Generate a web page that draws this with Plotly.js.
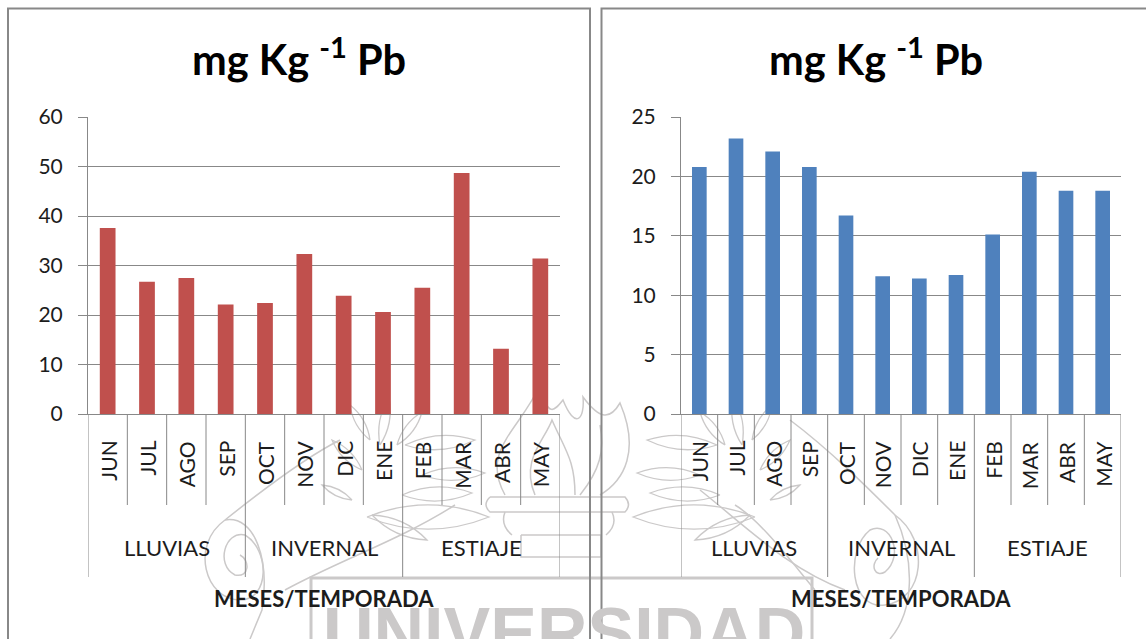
<!DOCTYPE html>
<html>
<head>
<meta charset="utf-8">
<script src="https://cdn.plot.ly/plotly-3.0.1.min.js"></script>
<style>html,body{margin:0;padding:0;background:#fff;overflow:hidden}</style>
</head>
<body>
<div id="chart" style="width:1146px;height:639px"></div>
<script>
// Monthly lead concentration, two sampling sites
const months = ['JUN','JUL','AGO','SEP','OCT','NOV','DIC','ENE','FEB','MAR','ABR','MAY'];
const seasons = ['LLUVIAS','INVERNAL','ESTIAJE'];
const seasonLength = 4;
const pbRed = [37.6,26.7,27.5,22.1,22.4,32.3,23.9,20.6,25.5,48.7,13.2,31.4];
const pbBlue = [20.8,23.2,22.1,20.8,16.7,11.6,11.4,11.7,15.1,20.4,18.8,18.8];
const chartTitle = 'mg Kg <sup>-1</sup> Pb';
const xTitle = 'MESES/TEMPORADA';

const W = 1146, H = 639;
const fx = x => x / W;
const fy = y => 1 - y / H;
const FONT = 'Lato, Carlito, "Open Sans", sans-serif';
const INK = '#1c1c1c', RULE = '#888888', EMBLEM = '#cbc9c9';

// Turn a path written in page pixels into paper coordinates
function pagePath(d) {
  let isX = true;
  return d.replace(/-?\d+(\.\d+)?/g, n => {
    const v = isX ? fx(+n) : fy(+n);
    isX = !isX;
    return v.toFixed(5);
  });
}
const stroke = (d, w) => ({type:'path', xref:'paper', yref:'paper', layer:'below',
  path: pagePath(d), line:{color:EMBLEM, width:w || 1.4}});

function leaf(bx, by, tx, ty, bulge) {
  const mx = (bx + tx) / 2, my = (by + ty) / 2;
  const nx = -(ty - by), ny = tx - bx;
  const k = bulge || 0.2;
  return `M${bx} ${by} Q${mx + nx*k} ${my + ny*k} ${tx} ${ty} Q${mx - nx*k} ${my - ny*k} ${bx} ${by}`;
}

// University emblem sitting faintly behind both panels
const emblem = [];
const laurelLeaves = [
  [717,445,647,440],[700,475,637,473],[720,495,650,493],[755,517,633,517],[750,515,695,540],
  [742,445,733,398],[725,445,700,412],[752,440,772,405],[760,470,790,440],[770,500,800,485]
];
const mirrorSum = 1122;
laurelLeaves.forEach(l => {
  emblem.push(stroke(leaf(l[0], l[1], l[2], l[3]), 1.3));
  emblem.push(stroke(leaf(mirrorSum - l[0], l[1], mirrorSum - l[2], l[3]), 1.3));
});
[
  'M505 495 C480 450 520 430 540 385 C548 420 555 410 563 400 C575 430 585 420 583 397 C600 420 610 420 620 403 C640 450 625 480 600 495',
  'M535 495 C520 460 545 440 552 420 C565 450 575 460 575 495',
  'M580 495 C600 470 605 450 600 425',
  'M490 497 L625 497 Q632 505 625 512 L490 512 Q482 505 490 497',
  'M521 535 L601 535 L601 557 L521 557 L521 535',
  'M505 512 Q500 525 512 535 M612 512 Q618 525 606 535',
  // left scroll
  'M340 440 C300 460 250 500 225 520 C190 545 205 600 240 600 C270 600 270 550 245 535 C225 530 215 565 235 575 C250 578 250 560 240 555',
  'M225 520 C255 515 270 560 262 610 L250 639',
  'M455 505 C400 540 340 560 285 590',
  // right scroll
  'M790 420 C830 450 870 490 895 515 C930 540 925 600 885 605 C850 610 845 550 870 530 C890 520 905 555 885 572 C875 578 870 565 878 558',
  'M700 490 C750 530 790 570 845 590 M895 515 C915 560 915 610 890 639',
  'M735 505 C760 520 790 560 815 590'
].forEach(d => emblem.push(stroke(d, 1.5)));
[518,535,552,570,587].forEach(cx => {
  emblem.push(stroke(`M${cx-7} 522 A7 7 0 1 0 ${cx+7} 522 A7 7 0 1 0 ${cx-7} 522`, 1.4));
});
emblem.push(stroke('M311 639 L311 578 L812 578 L812 639', 3));

// Frames around each panel
const frame = (x0, x1) => ({type:'rect', xref:'paper', yref:'paper', layer:'below',
  x0:fx(x0), x1:fx(x1), y0:fy(H + 10), y1:fy(8.5), line:{color:RULE, width:2}, fillcolor:'rgba(0,0,0,0)'});

// Month separators and the longer season separators under each category axis
function dividers(xref) {
  const out = [];
  for (let i = 0; i <= months.length; i++) {
    const major = i % seasonLength === 0;
    out.push({type:'line', xref, yref:'paper', x0:i-0.5, x1:i-0.5,
      y0:fy(414), y1:fy(major ? 577 : 505), line:{color:RULE, width:1}});
  }
  return out;
}

function axisLabels(xref, titleX, titleCentre) {
  const out = [];
  months.forEach((m, i) => out.push({xref, yref:'paper', x:i, y:fy(439), text:m, showarrow:false,
    textangle:-90, xanchor:'center', yanchor:'top', font:{family:FONT, size:21, color:INK}}));
  seasons.forEach((s, k) => out.push({xref, yref:'paper', x:(k + 0.5)*seasonLength - 0.5, y:fy(547), text:s,
    showarrow:false, xanchor:'center', yanchor:'middle', font:{family:FONT, size:22, color:INK}}));
  out.push({xref:'paper', yref:'paper', x:fx(titleX), y:fy(598), text:'<b>' + xTitle + '</b>', showarrow:false,
    xanchor:'center', yanchor:'middle', font:{family:FONT, size:22, color:INK}});
  out.push({xref:'paper', yref:'paper', x:fx(titleCentre), y:fy(56), text:'<b>' + chartTitle + '</b>', showarrow:false,
    xanchor:'center', yanchor:'middle', font:{family:FONT, size:41.5, color:'#000'}});
  return out;
}

const traces = [
  {type:'bar', x:months, y:pbRed, xaxis:'x', yaxis:'y', marker:{color:'#c0504d'}, showlegend:false, hoverinfo:'x+y'},
  {type:'bar', x:months, y:pbBlue, xaxis:'x2', yaxis:'y2', marker:{color:'#4f81bd'}, showlegend:false, hoverinfo:'x+y'}
];

const xAxis = (x0, x1) => ({domain:[fx(x0), fx(x1)], type:'category', categoryorder:'array', categoryarray:months,
  range:[-0.5, months.length - 0.5], showticklabels:false, ticks:'', showline:true, linecolor:RULE, linewidth:1,
  showgrid:false, zeroline:false, fixedrange:true});
const yAxis = (anchor, top, step) => ({domain:[fy(414), fy(117)], anchor, range:[0, top], dtick:step, tick0:0,
  showgrid:true, gridcolor:RULE, gridwidth:1, ticks:'outside', ticklen:9, tickcolor:RULE, tickwidth:1,
  showline:true, linecolor:RULE, linewidth:1, zeroline:false, fixedrange:true, ticklabelstandoff:11,
  tickfont:{family:FONT, size:21, color:INK}});

const layout = {
  width:W, height:H, margin:{l:0, r:0, t:0, b:0}, autosize:false,
  paper_bgcolor:'#ffffff', plot_bgcolor:'rgba(0,0,0,0)', showlegend:false,
  bargap:0.6,
  xaxis:xAxis(88, 560), yaxis:yAxis('x', 60, 10),
  xaxis2:xAxis(681, 1121), yaxis2:yAxis('x2', 25, 5),
  shapes:[...emblem, frame(8, 590), frame(601.5, W + 10), ...dividers('x'), ...dividers('x2')],
  annotations:[
    {xref:'paper', yref:'paper', x:fx(564), y:fy(592), text:'<b>UNIVERSIDAD</b>', showarrow:false, xanchor:'center', yanchor:'top',
      font:{family:'"Liberation Sans", sans-serif', size:70, color:EMBLEM}},
    ...axisLabels('x', 324, 299),
    ...axisLabels('x2', 901, 876)
  ]
};

Plotly.newPlot('chart', traces, layout, {displayModeBar:false, staticPlot:true});
</script>
</body>
</html>
